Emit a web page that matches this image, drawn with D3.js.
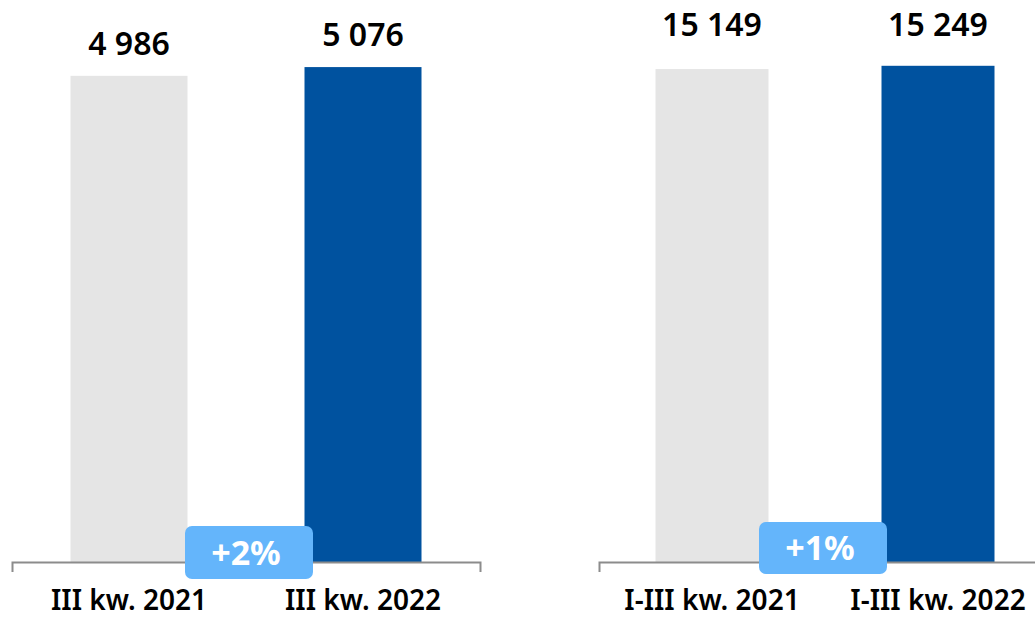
<!DOCTYPE html>
<html>
<head>
<meta charset="utf-8">
<script src="https://cdn.jsdelivr.net/npm/d3@7"></script>
<style>
  html, body { margin: 0; padding: 0; background: #fff; }
  svg { display: block; }
</style>
</head>
<body>
<svg id="chart" width="1035" height="620"></svg>
<script>
// ---- data ----
const categoriesQuarter = ["III kw. 2021", "III kw. 2022"];
const valuesQuarter = [4986, 5076];
const categoriesYear = ["I-III kw. 2021", "I-III kw. 2022"];
const valuesYear = [15149, 15249];
const changeLabels = ["+2%", "+1%"];

// ---- style ----
const barColors = ["#e5e5e5", "#00529f"];
const axisColor = "#8c8c8c";
const badgeColor = "#64b5fb";
const fontFamily = "'Noto Sans', 'Open Sans', sans-serif";

const fmt = d3.formatLocale({ decimal: ",", thousands: "\u00a0", grouping: [3], currency: ["", ""] }).format(",d");

const svg = d3.select("#chart");
const baseline = 562;

const panels = [
  { cats: categoriesQuarter, vals: valuesQuarter, change: changeLabels[0],
    xRange: [12, 480], yMax: 5764, labelMaxY: Infinity,
    badge: { x: 185, y: 526, w: 128, h: 53, tx: 246 } },
  { cats: categoriesYear, vals: valuesYear, change: changeLabels[1],
    xRange: [599, 1051], yMax: 17271, labelMaxY: 36,
    badge: { x: 759, y: 522, w: 128, h: 52, tx: 820 } }
];

panels.forEach(p => {
  const x = d3.scaleBand().domain(p.cats).range(p.xRange).paddingInner(0.5).paddingOuter(0.25);
  const y = d3.scaleLinear().domain([0, p.yMax]).range([baseline, 0]);
  const g = svg.append("g");

  // bars
  g.selectAll("rect.bar").data(p.cats).join("rect")
    .attr("class", "bar")
    .attr("x", d => x(d))
    .attr("width", x.bandwidth())
    .attr("y", (d, i) => y(p.vals[i]))
    .attr("height", (d, i) => baseline - y(p.vals[i]))
    .attr("fill", (d, i) => barColors[i]);

  // value labels
  g.selectAll("text.val").data(p.cats).join("text")
    .attr("class", "val")
    .attr("x", d => x(d) + x.bandwidth() / 2)
    .attr("y", (d, i) => Math.min(y(p.vals[i]) - 21, p.labelMaxY))
    .attr("text-anchor", "middle")
    .attr("font-family", fontFamily)
    .attr("font-weight", 600)
    .attr("font-size", 32)
    .attr("fill", "#000")
    .text((d, i) => fmt(p.vals[i]));

  // axis
  const axis = d3.axisBottom(x).tickSize(0).tickPadding(28).tickSizeOuter(10);
  const ag = g.append("g").attr("transform", `translate(0,${baseline})`).call(axis);
  ag.select(".domain").attr("stroke", axisColor).attr("stroke-width", 2);
  ag.selectAll(".tick line").remove();
  ag.selectAll(".tick text")
    .attr("font-family", fontFamily)
    .attr("font-weight", 600)
    .attr("font-size", 28)
    .attr("fill", "#000")
    .attr("dy", "0.71em");

  // badge
  g.append("rect")
    .attr("x", p.badge.x).attr("y", p.badge.y)
    .attr("width", p.badge.w).attr("height", p.badge.h)
    .attr("rx", 7).attr("ry", 7)
    .attr("fill", badgeColor);
  g.append("text")
    .attr("x", p.badge.tx)
    .attr("y", p.badge.y + p.badge.h / 2)
    .attr("dy", "0.36em")
    .attr("text-anchor", "middle")
    .attr("font-family", fontFamily)
    .attr("font-weight", 700)
    .attr("font-size", 34)
    .attr("fill", "#fff")
    .text(p.change);
});
</script>
</body>
</html>
